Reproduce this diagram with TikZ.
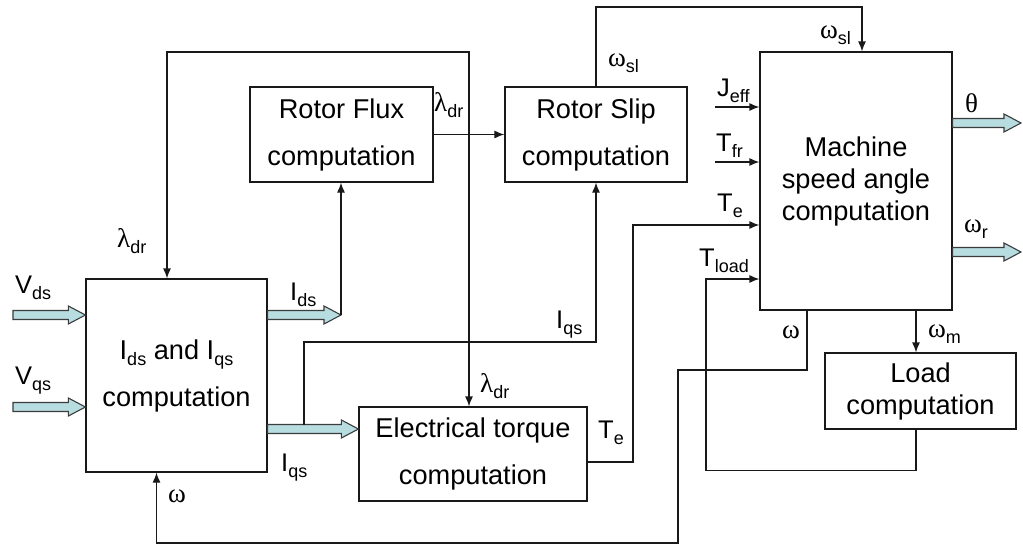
\documentclass[tikz,border=0pt]{standalone}
\usepackage{fontspec}
\setmainfont{Liberation Sans}
\newfontfamily\grk{Liberation Serif}
\usetikzlibrary{arrows.meta,calc}
\definecolor{fatfill}{RGB}{183,221,224}
\definecolor{lin}{RGB}{25,25,25}
\definecolor{fatline}{RGB}{60,60,60}
\newcommand\subt[1]{\raisebox{-6pt}{\fontsize{18}{18}\selectfont #1}}
\newcommand\gk[1]{{\grk\fontsize{27}{27}\selectfont #1}}
\newcommand\fatarrow[2]{\filldraw[fat] let \p1=(#1), \p2=(#2) in
  (\x1,\y1+4.5pt) -- (\x2-17pt,\y1+4.5pt) -- (\x2-17pt,\y1+9pt) -- (\x2,\y1)
  -- (\x2-17pt,\y1-9pt) -- (\x2-17pt,\y1-4.5pt) -- (\x1,\y1-4.5pt) -- cycle;}
\begin{document}
\begin{tikzpicture}[x=1pt,y=-1pt,
  box/.style={draw=lin,line width=1.2pt,fill=white,rectangle,inner sep=0pt,align=center,
    font=\fontsize{27.2}{47}\selectfont},
  tbox/.style={box,font=\fontsize{27.2}{32}\selectfont},
  arr/.style={draw=lin,line width=1.2pt,-{Latex[length=10pt,width=8pt]}},
  ln/.style={draw=lin,line width=1.2pt},
  fat/.style={fill=fatfill,draw=fatline,line width=1.1pt,line join=miter},
  lab/.style={anchor=base west,inner sep=0pt,font=\fontsize{25.5}{25.5}\selectfont}]
\useasboundingbox (0,0) rectangle (1023,546);

% boxes
\node[box,minimum width=181pt,minimum height=193pt] (A) at (176.5,375.5) {I\subt{ds} and I\subt{qs}\\computation};
\node[box,minimum width=183pt,minimum height=95pt] (RF) at (341.5,134.5) {Rotor Flux\\computation};
\node[box,minimum width=182pt,minimum height=95pt] (RS) at (596,134.5) {Rotor Slip\\computation};
\node[box,minimum width=228pt,minimum height=94pt] (ET) at (473,454) {Electrical torque\\computation};
\node[tbox,minimum width=192pt,minimum height=258pt] (M) at (856,181) {Machine\\speed angle\\computation};
\node[tbox,minimum width=191pt,minimum height=76pt] (L) at (920.5,391) {Load\\computation};

% named coordinates
\coordinate (vds) at (13,315);
\coordinate (vqs) at (13,407);
\coordinate (idsTip) at (341,315);
\coordinate (iqsA) at (304,429);
\coordinate (iqsJ) at (304,424.5);
\coordinate (iqsC) at (304,342);
\coordinate (lj) at (469,134.5);
\coordinate (lamTop) at (167,52);
\coordinate (teC) at (633,225);
\coordinate (w1) at (807,370);
\coordinate (w2) at (678,543);
\coordinate (tl) at (706,279);
\coordinate (wm) at ([xshift=-4.5pt]L.north);
\coordinate (sl) at (862,7);
\coordinate (jin) at (715,107);
\coordinate (tfr) at (715,162);
\coordinate (th) at (1021,123);
\coordinate (wr) at (1021,252);

% fat arrows
\fatarrow{vds}{A.west |- vds}
\fatarrow{vqs}{A.west |- vqs}
\fatarrow{A.east |- idsTip}{idsTip}
\fatarrow{A.east |- iqsA}{ET.west |- iqsA}
\fatarrow{M.east |- th}{th}
\fatarrow{M.east |- wr}{wr}

% connectors
\draw[arr] (idsTip) -- (idsTip |- RF.south);
\draw[arr] (RF.east) -- (RS.west);
\draw[arr] (lj) |- (lamTop) -- (lamTop |- A.north);
\draw[arr] (lj) -- (lj |- ET.north);
\draw[arr] (iqsJ) -- (iqsC) -| (RS.south);
\draw[arr] ([yshift=-8pt]ET.east) -| (teC) -- (teC -| M.west);
\draw[arr] (RS.north) |- (sl) -- (sl |- M.north);
\draw[arr] (jin) -- (jin -| M.west);
\draw[arr] (tfr) -- (tfr -| M.west);
\draw[arr] (wm |- M.south) -- (wm);
\draw[arr] (w1 |- M.south) -- (w1) -| (w2) -| ([xshift=-20pt]A.south);
\draw[arr] ([xshift=-4.5pt]L.south) -- ++(0,41) -| (tl) -- (tl -| M.west);

% labels
\node[lab] (lVds) at (15,293) {V\subt{ds}};
\node[lab] (lVqs) at (15,384) {V\subt{qs}};
\node[lab] (lIds) at (290,300) {I\subt{ds}};
\node[lab] (lIqs1) at (281,471) {I\subt{qs}};
\node[lab] (lIqs2) at (556,328) {I\subt{qs}};
\node[lab] (lLam1) at (117,247) {\gk{λ}\subt{dr}};
\node[lab] (lLam2) at (434,111) {\gk{λ}\subt{dr}};
\node[lab] (lLam3) at (480,392) {\gk{λ}\subt{dr}};
\node[lab] (lTe1) at (598,438) {T\subt{e}};
\node[lab] (lTe2) at (717,211) {T\subt{e}};
\node[lab] (lTl) at (699,266) {T\subt{load}};
\node[lab] (lJ) at (717,96) {J\subt{eff}};
\node[lab] (lTfr) at (716,151) {T\subt{fr}};
\node[lab] (lWsl1) at (608,66) {\gk{ω}\subt{sl}};
\node[lab] (lWsl2) at (820,38) {\gk{ω}\subt{sl}};
\node[lab] (lTh) at (965,112) {\gk{θ}};
\node[lab] (lWr) at (964,232) {\gk{ω}\subt{r}};
\node[lab] (lW1) at (782,338) {\gk{ω}};
\node[lab] (lWm) at (928,337) {\gk{ω}\subt{m}};
\node[lab] (lW2) at (168,502) {\gk{ω}};
\end{tikzpicture}
\end{document}
